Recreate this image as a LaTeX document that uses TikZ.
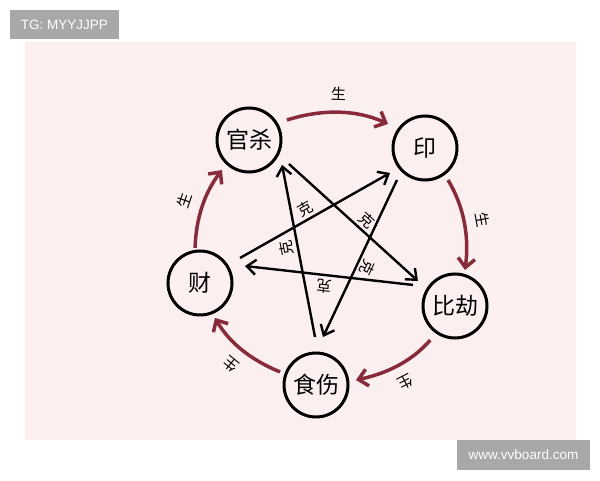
\documentclass[tikz,border=0pt]{standalone}
\usepackage{fontspec}
\newfontfamily\cjk{Noto Sans CJK SC}
\newfontfamily\wm{Liberation Sans}
\usetikzlibrary{arrows.meta}
\definecolor{bgpink}{RGB}{252,239,239}
\definecolor{wmgray}{RGB}{168,168,168}
\definecolor{shengred}{RGB}{135,42,58}
\begin{document}
\begin{tikzpicture}[x=1pt,y=1pt,
  elem/.style={circle, draw=black, line width=3pt, minimum size=64pt, inner sep=0pt, font=\cjk\fontsize{23}{23}\selectfont},
  kearrow/.style={line width=2.4pt, draw=black, -{Straight Barb[length=9pt,width=15pt]}},
  shengarrow/.style={line width=3.5pt, draw=shengred, -{Straight Barb[length=9pt,width=17pt]}, looseness=0.9},
  lbl/.style={font=\cjk\fontsize{15}{15}\selectfont, sloped, allow upside down, inner sep=1pt},
  wmbox/.style={fill=wmgray, text=white, font=\wm\fontsize{13.5}{13.5}\selectfont, inner sep=0pt}
]
\useasboundingbox (0,0) rectangle (600,480);
\fill[white] (0,0) rectangle (600,480);
\fill[bgpink] (25,40) rectangle (576,438);
\node[wmbox, minimum width=109pt, minimum height=29pt] (tg) at (64.5,455.5) {TG: MYYJJPP};
\node[wmbox, minimum width=133pt, minimum height=30pt] (www) at (523.5,25) {www.vvboard.com};

\node[elem] (G) at (249,340) {官杀};
\node[elem] (Y) at (425,332) {印};
\node[elem] (B) at (455,174) {比劫};
\node[elem] (S) at (316,95) {食伤};
\node[elem] (C) at (200,197) {财};

\draw[shengarrow] ([shift={(27.8:42.9)}]G.center) to[out=17.6, in=155.3] node[lbl, above=9pt] {生} ([shift={(147:44.1)}]Y.center);
\draw[shengarrow] ([shift={(-54.3:39.4)}]Y.center) to[out=-58.8, in=82.5] node[lbl, above=9pt] {生} ([shift={(74.5:37.4)}]B.center);
\draw[shengarrow] ([shift={(-126:42.2)}]B.center) to[out=-131, in=12] node[lbl, above=9pt] {生} ([shift={(7.1:40.3)}]S.center);
\draw[shengarrow] ([shift={(160:38.3)}]S.center) to[out=157.8, in=-59.9] node[lbl, above=9pt] {生} ([shift={(-66.8:38)}]C.center);
\draw[shengarrow] ([shift={(98:35.4)}]C.center) to[out=88.3, in=232.5] node[lbl, above=9pt] {生} ([shift={(-132:40.4)}]G.center);

\draw[kearrow] ([shift={(-31:46.6)}]G.center) -- node[lbl, above=2pt, pos=0.55] {克} ([shift={(146:44.7)}]B.center);
\draw[kearrow] ([shift={(228.8:42.5)}]Y.center) -- node[lbl, above=2pt, pos=0.53] {克} ([shift={(81.7:48.5)}]S.center);
\draw[kearrow] ([shift={(153.4:47)}]B.center) -- node[lbl, above=2pt, pos=0.52] {克} ([shift={(20.7:48.1)}]C.center);
\draw[kearrow] ([shift={(32:47.2)}]C.center) -- node[lbl, above=2pt, pos=0.47] {克} ([shift={(215.5:43)}]Y.center);
\draw[kearrow] ([shift={(91.2:48)}]S.center) -- node[lbl, above=2pt, pos=0.53] {克} ([shift={(-37:41.4)}]G.center);
\end{tikzpicture}
\end{document}
